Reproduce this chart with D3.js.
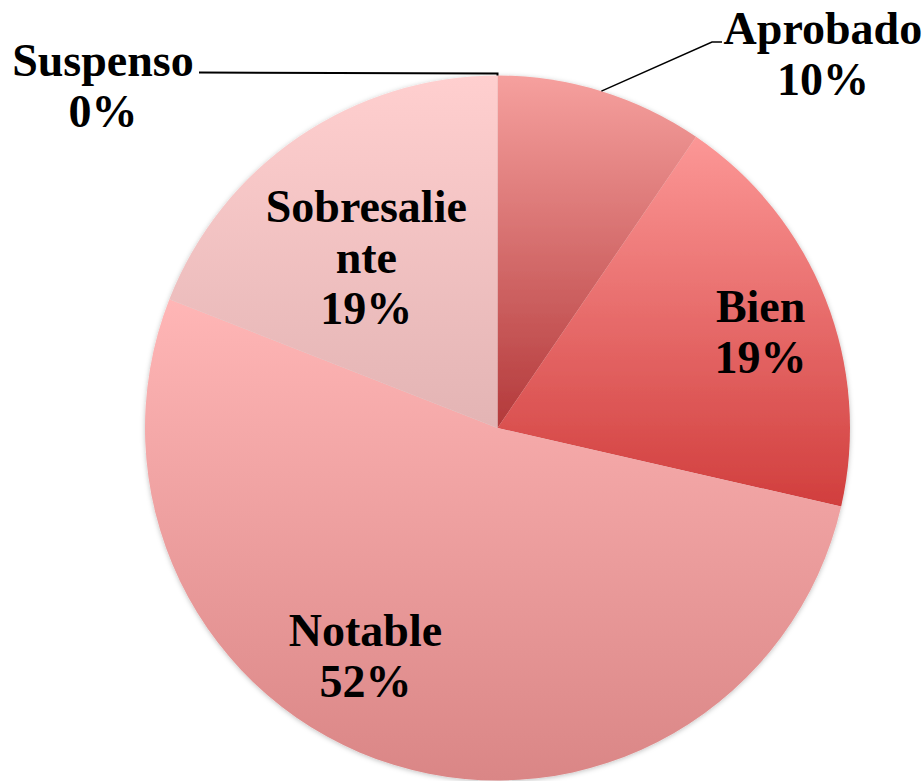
<!DOCTYPE html>
<html>
<head>
<meta charset="utf-8">
<script src="https://cdn.jsdelivr.net/npm/d3@7"></script>
<style>
  html, body { margin: 0; padding: 0; background: #fff; }
  svg { display: block; }
</style>
</head>
<body>
<svg id="chart" width="923" height="781"></svg>
<script>
// data (students per grade, order = clockwise from 12 o'clock)
const categories = ['Suspenso', 'Aprobado', 'Bien', 'Notable', 'Sobresaliente']
const values = [0, 2, 4, 11, 4]
// label lines as shown in the chart (Sobresaliente wraps)
const labelLines = [['Suspenso'], ['Aprobado'], ['Bien'], ['Notable'], ['Sobresalie', 'nte']]
// gradient top / bottom colours per slice
const colorTop = ['#f7a3a3', '#f6a09e', '#fc9796', '#ffb6b6', '#ffcfcf']
const colorBottom = ['#b5393a', '#b3393a', '#d13e3d', '#da8686', '#e3b4b4']

const width = 923, height = 781
const cx = 497.5, cy = 428, radius = 352.5

// label anchor (angle in degrees clockwise from top, distance from centre)
const labelPolar = {
  Suspenso: [310.9, 522],
  Aprobado: [41.1, 495],
  Bien: [70, 280],
  Notable: [210, 264],
  Sobresaliente: [322.4, 215]
}

const svg = d3.select('#chart')
const defs = svg.append('defs')

const shadow = defs.append('filter').attr('id', 'shadow')
  .attr('x', '-10%').attr('y', '-10%').attr('width', '120%').attr('height', '120%')
shadow.append('feDropShadow')
  .attr('dx', 0).attr('dy', 1).attr('stdDeviation', 2.5)
  .attr('flood-color', '#000').attr('flood-opacity', 0.25)

categories.forEach((c, i) => {
  const g = defs.append('linearGradient').attr('id', 'grad' + i)
    .attr('x1', 0).attr('y1', 0).attr('x2', 0).attr('y2', 1)
  g.append('stop').attr('offset', '0%').attr('stop-color', colorTop[i])
  g.append('stop').attr('offset', '100%').attr('stop-color', colorBottom[i])
})

const total = d3.sum(values)
const pie = d3.pie().value(d => d).sort(null)
const arcs = pie(values)
const arc = d3.arc().innerRadius(0).outerRadius(radius)

const pieG = svg.append('g')
  .attr('transform', `translate(${cx},${cy})`)
  .attr('filter', 'url(#shadow)')

pieG.selectAll('path')
  .data(arcs)
  .join('path')
  .attr('d', arc)
  .attr('fill', (d, i) => `url(#grad${i})`)

// leader lines for outside labels
const rad = a => a * Math.PI / 180
const polar = (angDeg, r) => [cx + r * Math.sin(rad(angDeg)), cy - r * Math.cos(rad(angDeg))]

const lineG = svg.append('g').attr('fill', 'none').attr('stroke', '#000').attr('stroke-width', 2)

// Suspenso: slice is at angle 0, label to the upper left
const sus = arcs[0]
const susEdge = polar(sus.startAngle * 180 / Math.PI, radius)
lineG.append('path')
  .attr('d', d3.line()([[susEdge[0], susEdge[1]], [susEdge[0], susEdge[1] - 2], [199, susEdge[1] - 3]]))

// Aprobado: from mid-angle on the rim up to the label
const apr = arcs[1]
const aprMid = (apr.startAngle + apr.endAngle) / 2 * 180 / Math.PI
const aprEdge = polar(aprMid, radius)
lineG.append('path')
  .attr('stroke-width', 1.5)
  .attr('d', d3.line()([aprEdge, [712, 42], [722, 42]]))

// labels
const fmt = v => Math.round(v / total * 100) + '%'
const fontSize = 46, lineH = 51, capH = 30

const labelG = svg.append('g')
  .attr('font-family', "'Liberation Serif', 'Times New Roman', serif")
  .attr('font-weight', 'bold')
  .attr('font-size', fontSize)
  .attr('fill', '#000')
  .attr('text-anchor', 'middle')

arcs.forEach((d, i) => {
  const name = categories[i]
  const lines = labelLines[i].concat([fmt(values[i])])
  const [ang, r] = labelPolar[name]
  const [lx, ly] = polar(ang, r)
  const firstBase = ly - (lines.length - 1) * lineH / 2 + capH / 2
  const t = labelG.append('text')
  lines.forEach((ln, k) => {
    t.append('tspan')
      .attr('x', lx)
      .attr('y', firstBase + k * lineH)
      .text(ln)
  })
})
</script>
</body>
</html>
